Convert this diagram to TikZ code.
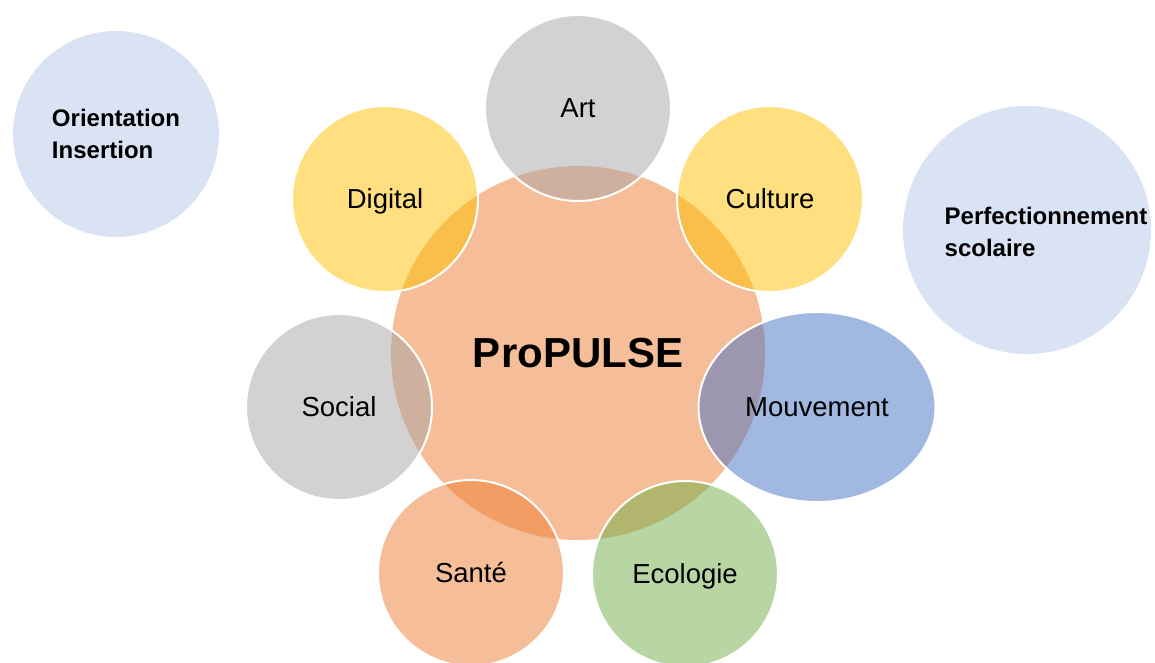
\documentclass[tikz,border=0pt]{standalone}
\usepackage{fontspec}
\setmainfont{Liberation Sans}
\usetikzlibrary{shapes.geometric}

\definecolor{propOrange}{HTML}{ED7D31}
\definecolor{propGray}{HTML}{A5A5A5}
\definecolor{propGold}{HTML}{FFC000}
\definecolor{propBlue}{HTML}{4472C4}
\definecolor{propGreen}{HTML}{70AD47}
\definecolor{propPale}{HTML}{DAE3F3}

\begin{document}
\begin{tikzpicture}[x=1pt, y=-1pt,
  hub/.style={circle, draw=none, fill=propOrange, fill opacity=0.5, text opacity=1,
    minimum size=374pt, inner sep=0pt, font=\fontsize{42}{50}\selectfont\bfseries},
  bubble/.style={circle, draw=white, line width=2pt, fill opacity=0.5, text opacity=1,
    minimum size=186pt, inner sep=0pt, text height=25.3pt, text depth=5.5pt,
    font=\fontsize{27.5}{32}\selectfont},
  side/.style={circle, draw=none, fill=propPale, inner sep=0pt},
  sidetext/.style={align=left, inner sep=0pt, font=\fontsize{24}{32}\selectfont\bfseries}]
%%%%%%%%%%%%%%%%%%%%%%%%%%%%%%%%%%%%%%%%%%% HELP LINES
%\draw[help lines, step=50] (0,0) grid (1155,662);
\useasboundingbox (0,0) rectangle (1155,662);

%%%%%%%%%%%%%%%%%%%%%%%%%%%%%%%%%%%%%%%%%%% outer themes
\node[side, minimum size=206pt](orient) at (116,134){};
\node[sidetext](orientText) at (orient.center){Orientation\\Insertion};
\node[side, minimum size=248pt](perf) at (1027,230){};
\node[sidetext](perfText) at (1046,232){Perfectionnement\\scolaire};

%%%%%%%%%%%%%%%%%%%%%%%%%%%%%%%%%%%%%%%%%%% hub
\node[hub](propulse) at (578,353){ProPULSE};

%%%%% satellites
\node[bubble, fill=propGray](art) at (578,108){Art};
\node[bubble, fill=propGold](culture) at (770,199){Culture};
\node[bubble, ellipse, fill=propBlue, minimum width=237pt, minimum height=190pt](mouv) at (817,407){Mouvement};
\node[bubble, fill=propGreen](eco) at (685,574){Ecologie};
\node[bubble, fill=propOrange](sante) at (471,573){Santé};
\node[bubble, fill=propGray](social) at (339,407){Social};
\node[bubble, fill=propGold](digital) at (385,199){Digital};
\end{tikzpicture}
\end{document}
